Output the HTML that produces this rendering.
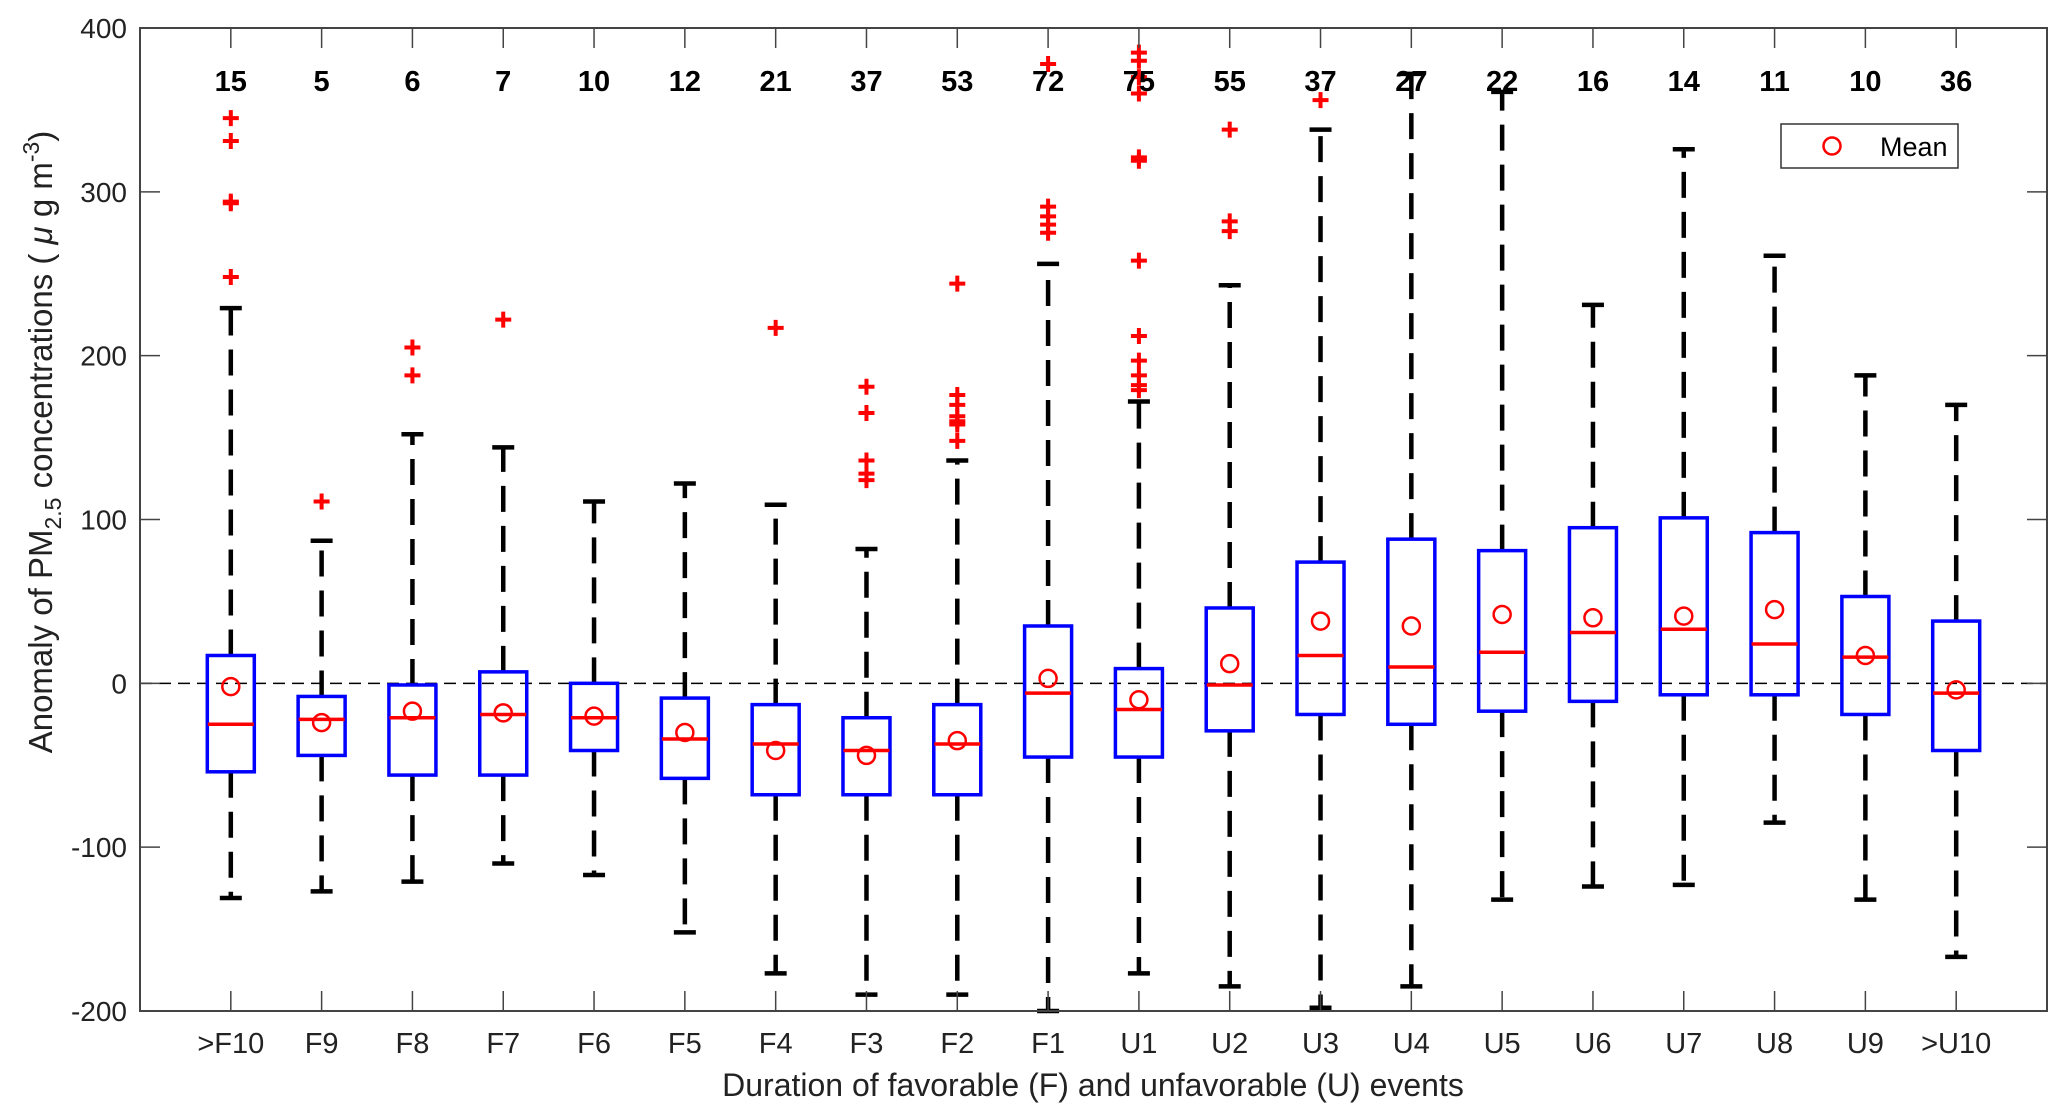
<!DOCTYPE html>
<html><head><meta charset="utf-8"><style>
html,body{margin:0;padding:0;background:#fff}
svg{display:block;font-family:"Liberation Sans",sans-serif}
</style></head><body>
<svg id="chart" width="2067" height="1120"></svg>
<script>
const categories=[">F10","F9","F8","F7","F6","F5","F4","F3","F2","F1","U1","U2","U3","U4","U5","U6","U7","U8","U9",">U10"];
const counts=[15,5,6,7,10,12,21,37,53,72,75,55,37,27,22,16,14,11,10,36];
const whiskerHigh=[229,87,152,144,111,122,109,82,136,256,172,243,338,372,361,231,326,261,188,170];
const q3=[17,-8,-1,7,0,-9,-13,-21,-13,35,9,46,74,88,81,95,101,92,53,38];
const medians=[-25,-22,-21,-19,-21,-34,-37,-41,-37,-6,-16,-1,17,10,19,31,33,24,16,-6];
const q1=[-54,-44,-56,-56,-41,-58,-68,-68,-68,-45,-45,-29,-19,-25,-17,-11,-7,-7,-19,-41];
const whiskerLow=[-131,-127,-121,-110,-117,-152,-177,-190,-190,-200,-177,-185,-198,-185,-132,-124,-123,-85,-132,-167];
const means=[-2,-24,-17,-18,-20,-30,-41,-44,-35,3,-10,12,38,35,42,40,41,45,17,-4];
const outliers=[[345,331,294,293,248],[111],[205,188],[222],[],[],[217],[181,165,136,128,124],[244,176,170,163,160,158,148],[378,291,285,280,275],[385,380,370,360,321,319,258,212,197,188,182,179],[338,282,276],[356],[],[],[],[],[],[],[]];
const yTicks=[-200,-100,0,100,200,300,400];

const NS="http://www.w3.org/2000/svg";
const svg=document.getElementById('chart');
const L=140,R=2047,T=28,B=1011;
const x=i=>L+(i+1)*(R-L)/21;
const y=v=>T+(400-v)*(B-T)/600;
function el(tag,a,parent){const e=document.createElementNS(NS,tag);for(const k in a)e.setAttribute(k,a[k]);(parent||svg).appendChild(e);return e;}

const zl=el('line',{x1:L,x2:R,y1:y(0),y2:y(0),stroke:'#000','stroke-width':1.5,'stroke-dasharray':'12,7'});



categories.forEach((c,i)=>{
  const cx=x(i);
  const g=el('g',{});
  
  
  el('line',{x1:cx,x2:cx,y1:y(q3[i]),y2:y(whiskerHigh[i]),stroke:'#000','stroke-width':4.5,'stroke-dasharray':'26,14'},g);
  el('line',{x1:cx,x2:cx,y1:y(q1[i]),y2:y(whiskerLow[i]),stroke:'#000','stroke-width':4.5,'stroke-dasharray':'26,14'},g);
  el('line',{x1:cx-11,x2:cx+11,y1:y(whiskerHigh[i]),y2:y(whiskerHigh[i]),stroke:'#000','stroke-width':4.5},g);
  el('line',{x1:cx-11,x2:cx+11,y1:y(whiskerLow[i]),y2:y(whiskerLow[i]),stroke:'#000','stroke-width':4.5},g);
  el('rect',{x:cx-23.5,y:y(q3[i]),width:47,height:y(q1[i])-y(q3[i]),fill:'none',stroke:'#00f','stroke-width':3.5},g);
  el('line',{x1:cx-23,x2:cx+23,y1:y(medians[i]),y2:y(medians[i]),stroke:'#f00','stroke-width':3.5},g);
  el('circle',{cx:cx,cy:y(means[i]),r:8.5,fill:'none',stroke:'#f00','stroke-width':2.5},g);
  outliers[i].forEach(v=>{
    el('path',{d:`M${cx-8} ${y(v)}h16M${cx} ${y(v)-8}v16`,stroke:'#f00','stroke-width':4},g);
  });
  const n=el('text',{x:cx,y:91,'text-anchor':'middle','font-size':29,'font-weight':'bold',fill:'#000'});
  n.textContent=counts[i];
  
  
  const tl=el('text',{x:cx,y:1053,'text-anchor':'middle','font-size':29,fill:'#222'});
  tl.textContent=c;
  
  
  el('line',{x1:cx,x2:cx,y1:B,y2:B-20,stroke:'#444','stroke-width':1.5});
  el('line',{x1:cx,x2:cx,y1:T,y2:T+20,stroke:'#444','stroke-width':1.5});
});

yTicks.forEach(v=>{
  el('line',{x1:L,x2:L+20,y1:y(v),y2:y(v),stroke:'#444','stroke-width':1.5});
  el('line',{x1:R,x2:R-20,y1:y(v),y2:y(v),stroke:'#444','stroke-width':1.5});
  const t=el('text',{x:L-13,y:y(v)+10,'text-anchor':'end','font-size':28,fill:'#222'});
  t.textContent=v;
  
  
});

const frame=el('rect',{x:L,y:T,width:R-L,height:B-T,fill:'none',stroke:'#444','stroke-width':2});



const xt=el('text',{x:1093,y:1096,'text-anchor':'middle','font-size':32,fill:'#222'});
xt.textContent='Duration of favorable (F) and unfavorable (U) events';



const yt=el('text',{transform:`translate(52,442) rotate(-90)`,'text-anchor':'middle','font-size':33,fill:'#222'});
yt.innerHTML='Anomaly of PM<tspan font-size="23" dy="9">2.5</tspan><tspan dy="-9"> concentrations ( </tspan><tspan font-style="italic">μ</tspan> g m<tspan font-size="23" dy="-13">-3</tspan><tspan dy="13">)</tspan>';



const lg=el('g',{});


el('rect',{x:1781,y:124,width:177,height:44,fill:'#fff',stroke:'#333','stroke-width':1.5},lg);
el('circle',{cx:1832,cy:146,r:8.5,fill:'none',stroke:'#f00','stroke-width':2.5},lg);
const lt=el('text',{x:1880,y:156,'font-size':27,fill:'#000'},lg);
lt.textContent='Mean';


</script>
</body></html>
